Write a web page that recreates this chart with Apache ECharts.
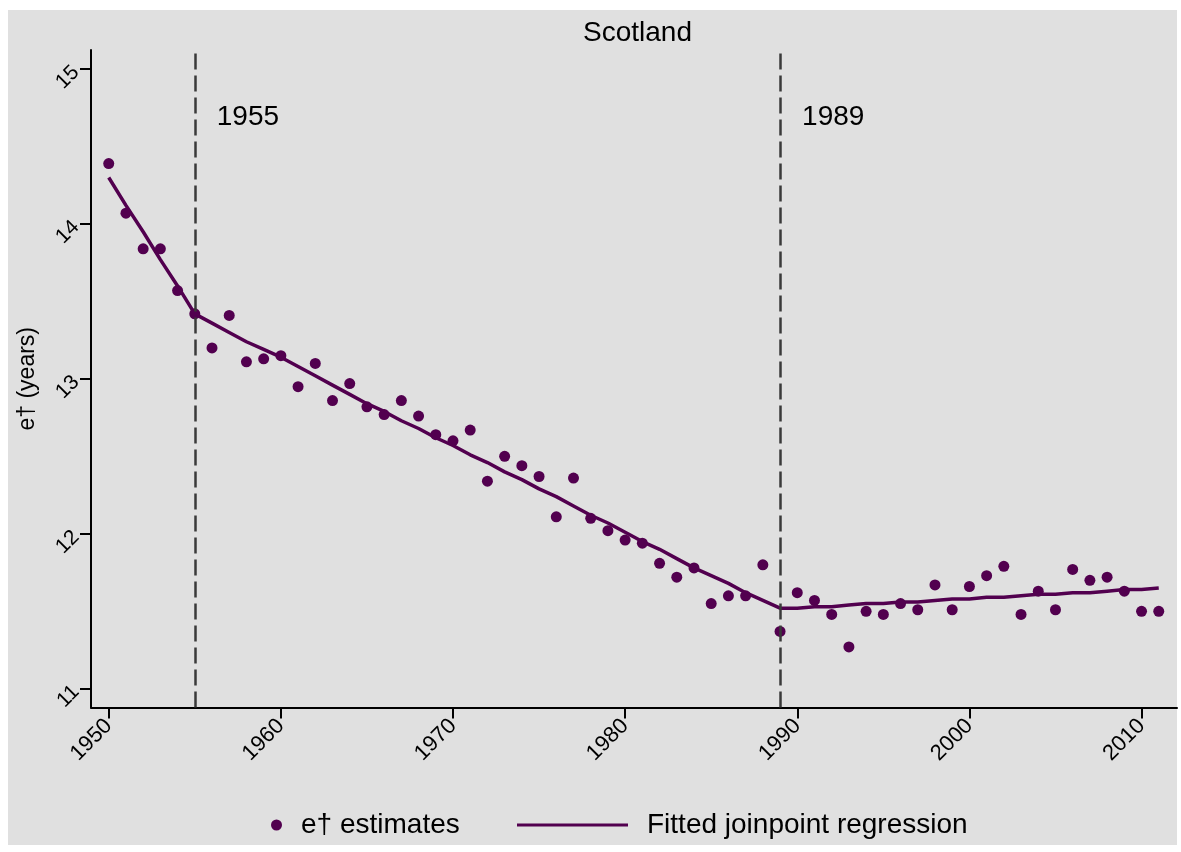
<!DOCTYPE html>
<html>
<head>
<meta charset="utf-8">
<title>Scotland – e† joinpoint regression</title>
<script src="https://cdn.jsdelivr.net/npm/echarts@6/dist/echarts.min.js"></script>
<style>
  html, body { margin: 0; padding: 0; background: #ffffff; }
  #panel { position: absolute; left: 8px; top: 10px; width: 1169px; height: 835px; background: #e0e0e0; }
  #chart { position: absolute; left: 0; top: 0; width: 1181px; height: 852px; }
</style>
</head>
<body>
<div id="panel"></div>
<div id="chart"></div>
<script>
// Years of observation
const years = [
  1950, 1951, 1952, 1953, 1954, 1955, 1956, 1957, 1958, 1959,
  1960, 1961, 1962, 1963, 1964, 1965, 1966, 1967, 1968, 1969,
  1970, 1971, 1972, 1973, 1974, 1975, 1976, 1977, 1978, 1979,
  1980, 1981, 1982, 1983, 1984, 1985, 1986, 1987, 1988, 1989,
  1990, 1991, 1992, 1993, 1994, 1995, 1996, 1997, 1998, 1999,
  2000, 2001, 2002, 2003, 2004, 2005, 2006, 2007, 2008, 2009,
  2010, 2011
];

// Annual e† estimates (years)
const estimates = [
  14.39, 14.07, 13.84, 13.84, 13.57, 13.42, 13.20, 13.41, 13.11, 13.13,
  13.15, 12.95, 13.10, 12.86, 12.97, 12.82, 12.77, 12.86, 12.76, 12.64,
  12.60, 12.67, 12.34, 12.50, 12.44, 12.37, 12.11, 12.36, 12.10, 12.02,
  11.96, 11.94, 11.81, 11.72, 11.78, 11.55, 11.60, 11.60, 11.80, 11.37,
  11.62, 11.57, 11.48, 11.27, 11.50, 11.48, 11.55, 11.51, 11.67, 11.51,
  11.66, 11.73, 11.79, 11.48, 11.63, 11.51, 11.77, 11.70, 11.72, 11.63,
  11.50, 11.50
];

// Fitted joinpoint regression values
const fitted = [
  14.30, 14.12, 13.95, 13.77, 13.60, 13.42, 13.36, 13.30, 13.24, 13.19,
  13.14, 13.08, 13.02, 12.96, 12.90, 12.84, 12.79, 12.73, 12.68, 12.62,
  12.57, 12.51, 12.46, 12.40, 12.35, 12.29, 12.24, 12.18, 12.12, 12.07,
  12.01, 11.95, 11.90, 11.84, 11.78, 11.73, 11.68, 11.62, 11.57, 11.52,
  11.52, 11.53, 11.53, 11.54, 11.55, 11.55, 11.56, 11.56, 11.57, 11.58,
  11.58, 11.59, 11.59, 11.60, 11.61, 11.61, 11.62, 11.62, 11.63, 11.64,
  11.64, 11.65
];

// Joinpoints
const joinpoints = [1955, 1989];

// Tick labels
const xTicks = [1950, 1960, 1970, 1980, 1990, 2000, 2010];
const yTicks = [11, 12, 13, 14, 15];

const purple = '#52004f';
const font = 'Arial, "Liberation Sans", sans-serif';

const scatterData = years.map((y, i) => [y, estimates[i]]);
const fittedData = years.map((y, i) => [y, fitted[i]]);

const chart = echarts.init(document.getElementById('chart'), null, { renderer: 'canvas' });

chart.setOption({
  backgroundColor: 'transparent',
  animation: false,
  textStyle: { fontFamily: font },
  title: {
    text: 'Scotland',
    left: 578,
    top: 14,
    textStyle: { fontFamily: font, fontSize: 28, fontWeight: 'normal', color: '#000' }
  },
  legend: [
    {
      data: [{ name: 'e† estimates', icon: 'circle' }],
      left: 271,
      top: 811,
      padding: 0,
      itemWidth: 11,
      itemHeight: 11,
      textStyle: { fontFamily: font, fontSize: 28, color: '#000', padding: [0, 0, 0, 14] },
      selectedMode: false
    },
    {
      data: [{ name: 'Fitted joinpoint regression', icon: 'rect' }],
      left: 517,
      top: 811,
      padding: 0,
      itemWidth: 111,
      itemHeight: 3,
      textStyle: { fontFamily: font, fontSize: 28, color: '#000', padding: [0, 0, 0, 14] },
      selectedMode: false
    }
  ],
  grid: { left: 91, right: 4, top: 50, bottom: 144.5, containLabel: false },
  xAxis: {
    type: 'value',
    min: 1948.97,
    max: 2012.06,
    axisLine: { show: true, onZero: false, lineStyle: { color: '#000', width: 2 } },
    axisTick: { show: true, customValues: xTicks, length: 11, lineStyle: { color: '#000', width: 2 } },
    axisLabel: {
      customValues: xTicks,
      rotate: 45,
      margin: 15,
      fontSize: 22,
      color: '#000',
      fontFamily: font,
      formatter: v => String(Math.round(v))
    },
    splitLine: { show: false }
  },
  yAxis: {
    type: 'value',
    min: 10.879,
    max: 15.123,
    name: 'e† (years)',
    nameLocation: 'middle',
    nameGap: 52,
    nameTextStyle: { fontFamily: font, fontSize: 23, color: '#000' },
    axisLine: { show: true, lineStyle: { color: '#000', width: 2 } },
    axisTick: { show: true, customValues: yTicks, length: 11, lineStyle: { color: '#000', width: 2 } },
    axisLabel: {
      customValues: yTicks,
      rotate: 45,
      margin: 15,
      fontSize: 21,
      color: '#000',
      fontFamily: font
    },
    splitLine: { show: false }
  },
  series: [
    {
      name: 'e† estimates',
      type: 'scatter',
      data: scatterData,
      symbol: 'circle',
      symbolSize: 11,
      itemStyle: { color: purple, opacity: 1 },
      z: 3,
      markLine: {
        silent: true,
        symbol: ['none', 'none'],
        label: { show: false },
        lineStyle: { color: '#3a3a3a', width: 2.5, type: [16, 6] },
        data: joinpoints.map(j => ({ xAxis: j }))
      },
      markPoint: {
        silent: true,
        symbol: 'circle',
        symbolSize: 0,
        label: {
          show: true,
          position: 'right',
          distance: 22,
          fontFamily: font,
          fontSize: 28,
          color: '#000',
          formatter: p => p.name
        },
        data: joinpoints.map(j => ({ name: String(j), coord: [j, 14.69] }))
      }
    },
    {
      name: 'Fitted joinpoint regression',
      type: 'line',
      data: fittedData,
      symbol: 'none',
      showSymbol: false,
      lineStyle: { color: purple, width: 3.5 },
      itemStyle: { color: purple },
      z: 2
    }
  ]
});
</script>
</body>
</html>
